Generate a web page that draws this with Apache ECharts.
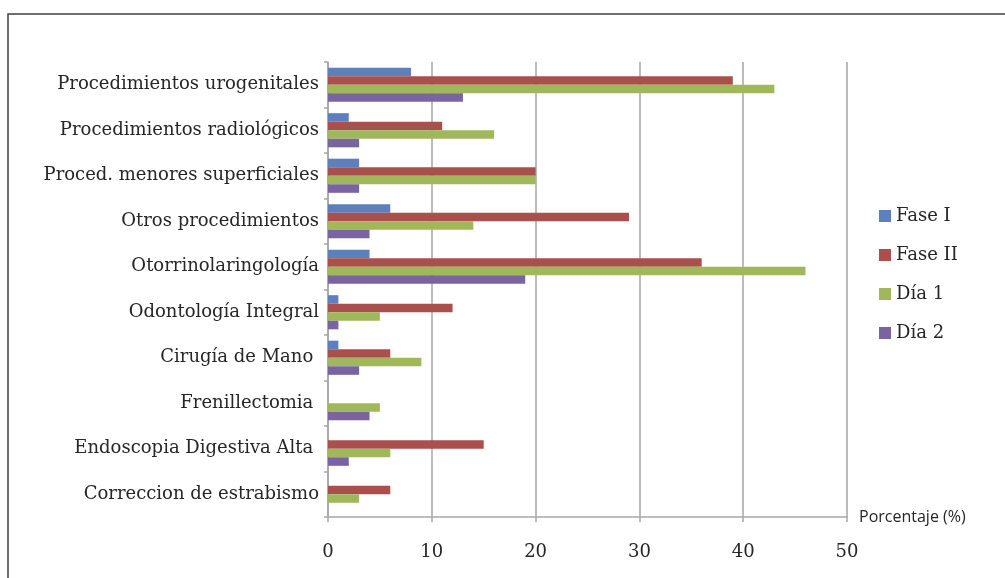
<!DOCTYPE html>
<html>
<head>
<meta charset="utf-8">
<script src="https://cdn.jsdelivr.net/npm/echarts@6/dist/echarts.min.js"></script>
<style>html,body{margin:0;padding:0;background:#fff}#c{width:1005px;height:578px}</style>
</head>
<body>
<div id="c"></div>
<script>
const categories = [
  'Procedimientos urogenitales',
  'Procedimientos radiológicos',
  'Proced. menores superficiales',
  'Otros procedimientos',
  'Otorrinolaringología',
  'Odontología Integral',
  'Cirugía de Mano ',
  'Frenillectomia ',
  'Endoscopia Digestiva Alta ',
  'Correccion de estrabismo'
];
const faseI  = [8, 2, 3, 6, 4, 1, 1, 0, 0, 0];
const faseII = [39, 11, 20, 29, 36, 12, 6, 0, 15, 6];
const dia1   = [43, 16, 20, 14, 46, 5, 9, 5, 6, 3];
const dia2   = [13, 3, 3, 4, 19, 1, 3, 4, 2, 0];
const seriesNames = ['Fase I', 'Fase II', 'Día 1', 'Día 2'];
const xTicks = { min: 0, max: 50, interval: 10 };

const colors = ['#5b80bd', '#a9504d', '#a1b75c', '#7963a0'];
const serif = 'DejaVu Serif';
const txt = '#262626';
const chart = echarts.init(document.getElementById('c'));
const mk = (name, data, i) => ({
  name, type: 'bar', data, barGap: '0%', barCategoryGap: '25%',
  itemStyle: { color: colors[i] }
});
chart.setOption({
  animation: false,
  color: colors,
  grid: { left: 328, right: 158, top: 62, bottom: 61, containLabel: false },
  legend: {
    orient: 'vertical', left: 874, top: 202, itemGap: 21,
    itemWidth: 12, itemHeight: 12, icon: 'rect',
    textStyle: { fontFamily: serif, fontSize: 18, color: txt },
    data: seriesNames
  },
  xAxis: {
    type: 'value', min: xTicks.min, max: xTicks.max, interval: xTicks.interval,
    name: 'Porcentaje (%)', nameLocation: 'end', nameGap: 12,
    nameTextStyle: { fontFamily: 'Open Sans', fontSize: 16, color: txt, verticalAlign: 'middle' },
    axisLine: { show: true, lineStyle: { color: '#a6a6a6', width: 1.5 } },
    axisTick: { show: true, length: 5, lineStyle: { color: '#a6a6a6', width: 1.5 } },
    splitLine: { show: true, lineStyle: { color: '#a6a6a6', width: 1.5 } },
    axisLabel: { fontFamily: serif, fontSize: 18, color: txt, margin: 26 }
  },
  yAxis: {
    type: 'category', data: categories, inverse: true,
    axisLine: { show: true, lineStyle: { color: '#a6a6a6', width: 1.5 } },
    axisTick: { show: true, length: 4, lineStyle: { color: '#a6a6a6', width: 1.5 } },
    axisLabel: { fontFamily: serif, fontSize: 18, color: txt, margin: 9 }
  },
  graphic: [{
    type: 'rect', shape: { x: 8, y: 14, width: 1100, height: 700 },
    style: { fill: 'none', stroke: '#404040', lineWidth: 1.5 }, silent: true
  }],
  series: [mk(seriesNames[0], faseI, 0), mk(seriesNames[1], faseII, 1), mk(seriesNames[2], dia1, 2), mk(seriesNames[3], dia2, 3)]
});
</script>
</body>
</html>
